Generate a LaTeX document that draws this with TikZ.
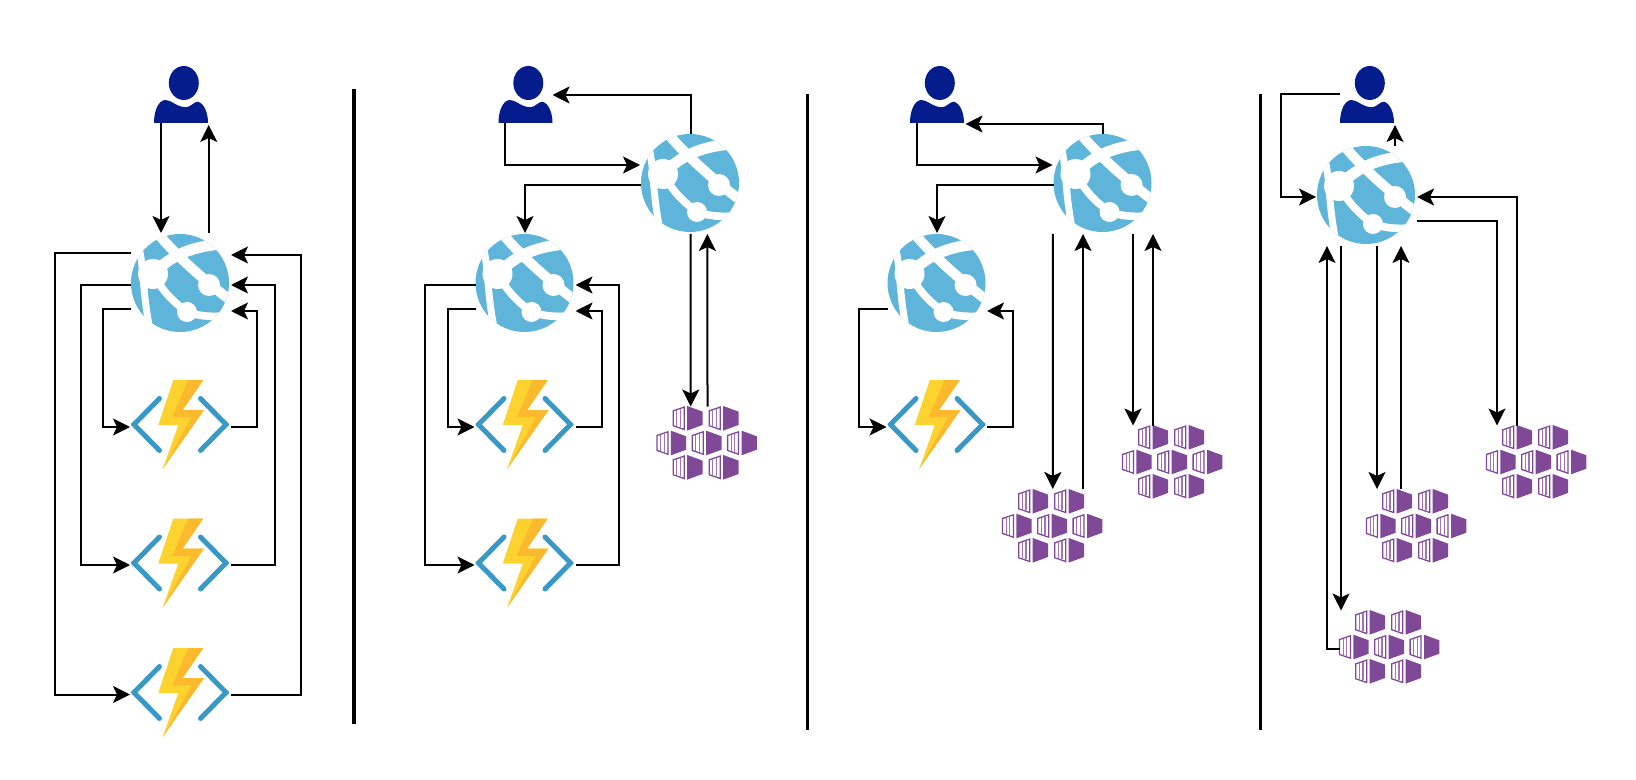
\documentclass[tikz,border=0pt]{standalone}
\usetikzlibrary{arrows.meta,positioning,calc}

\definecolor{appblue}{HTML}{5EB5D9}
\definecolor{userblue}{HTML}{041C8C}
\definecolor{chevblue}{HTML}{3999C6}
\definecolor{boltyellow}{HTML}{FCD22F}
\definecolor{boltorange}{HTML}{FDB92E}
\definecolor{kubepurple}{HTML}{804998}

\newcommand{\appicon}{%
  \begin{scope}[shift={(path picture bounding box.center)}]
    \fill[appblue] (0,0) circle (49);
    \begin{scope}[white, line cap=butt]
      \clip (0,0) circle (49);
      \draw[line width=5pt] (-21,-48) .. controls (-4,-28) and (20,-6) .. (50,17);
      \draw[line width=5.5pt] (-27,-9) .. controls (-12,-24) and (5,-36) .. (42,-39);
      \draw[line width=3.5pt] (-42,-38) .. controls (-36,-20) and (-38,5) .. (-31,42);
      \draw[line width=3.8pt] (-27,-9) .. controls (-14,14) and (0,24) .. (8,29) .. controls (18,33) and (30,34) .. (44,33);
      \fill (-27,-9) circle (15);
      \fill (29,2) circle (11);
      \fill (7,29) circle (10);
    \end{scope}
  \end{scope}}

\newcommand{\funcicon}{%
  \begin{scope}[shift={(path picture bounding box.center)}]
    \draw[chevblue, line width=2.5pt, line cap=round, miter limit=4] (-20.5,-26) -- (-46,0) -- (-20.5,26);
    \draw[chevblue, line width=2.5pt, line cap=round, miter limit=4] (20.5,-26) -- (46,0) -- (20.5,26);
    \fill[boltyellow] (-6.7,-44.5) -- (23.3,-44.5) -- (2.7,-14.5) -- (24,-14.5) -- (-17.3,44.5) -- (-1.7,0.5) -- (-21.7,0.5) -- cycle;
    \fill[boltorange] (8.3,-44.5) -- (23.3,-44.5) -- (2.7,-14.5) -- (24,-14.5) -- (-17.3,44.5) -- (11.7,-7.2) -- (-7.7,-7.2) -- cycle;
  \end{scope}}

\newcommand{\usericon}{%
  \begin{scope}[shift={(path picture bounding box.center)}]
    \fill[userblue] (2.8,-11.5) ellipse (15 and 17);
    \fill[userblue] (-27,28.5) .. controls (-27,15) and (-22,6) .. (-16,5.5)
      .. controls (-10,5) and (-5,12.5) .. (5,12.8)
      .. controls (10,12.5) and (13,7) .. (17,7.2)
      .. controls (23,9) and (27,18) .. (27,28.5) -- cycle;
  \end{scope}}

% one box of the cluster
\newcommand{\kubepiece}[2]{%
  \draw[kubepurple, line width=0.65pt, line join=miter] ({#1-14.2},{#2-7.5}) -- ({#1-3.3},{#2-11.2}) -- ({#1-3.3},{#2+11.2}) -- ({#1-14.2},{#2+7.5}) -- cycle;
  \draw[kubepurple!75, line width=0.55pt] ({#1-10.6},{#2-8}) -- ({#1-10.6},{#2+8}) ({#1-7},{#2-9}) -- ({#1-7},{#2+9});
  \fill[kubepurple] ({#1-0.3},{#2-12.3}) -- ({#1+15},{#2-6.7}) -- ({#1+15},{#2+6.7}) -- ({#1-0.3},{#2+12.3}) -- cycle;}

\newcommand{\kubeicon}{%
  \begin{scope}[shift={(path picture bounding box.center)}]
    \foreach \kx/\ky in {-19/-24.7,17/-24.7,-35.3/0,0/0,35.3/0,-19/24.3,17/24.3}
      {\kubepiece{\kx}{\ky}}
  \end{scope}}

\tikzset{
  appnode/.style={inner sep=0pt, outer sep=0pt, minimum size=49pt, path picture={\appicon}},
  funcnode/.style={inner sep=0pt, outer sep=0pt, minimum width=49pt, minimum height=44.5pt, path picture={\funcicon}},
  usernode/.style={inner sep=0pt, outer sep=0pt, minimum width=27pt, minimum height=28.5pt, path picture={\usericon}},
  kubenode/.style={inner sep=0pt, outer sep=0pt, minimum width=50.5pt, minimum height=37.5pt, path picture={\kubeicon}},
  arr/.style={-{Stealth[length=8.5pt, width=8.5pt, inset=2pt]}, line width=1pt},
  divider/.style={line width=1.7pt}
}

\begin{document}
\begin{tikzpicture}[x=0.5pt, y=-0.5pt]
\useasboundingbox (0,0) rectangle (1636,780);

% first panel
\node[usernode] (user1) at (181,94.5) {};
\node[appnode, below=55.5pt of user1, xshift=-0.5pt] (app1) {};
\node[funcnode, below=24pt of app1] (func11) {};
\node[funcnode, below=24.75pt of func11] (func12) {};
\node[funcnode, below=20.25pt of func12] (func13) {};

\draw[arr] ($(user1.south)+(-20,0)$) -- ($(app1.north)+(-19,-1)$);
\draw[arr] ($(app1.north)+(28.7,-1)$) -- ($(user1.south)+(27.7,2)$);
\draw[arr] ($(app1.west)+(0,-30)$) -- ++(-76,0) |- ($(func13.west)+(-1,2)$);
\draw[arr] ($(app1.west)+(0,2)$) -- ++(-50,0) |- ($(func12.west)+(-1,2)$);
\draw[arr] ($(app1.west)+(0,26)$) -- ++(-28,0) |- ($(func11.west)+(-1,2.5)$);
\draw[arr] ($(func11.east)+(2,2.5)$) -- ++(26,0) |- ($(app1.east)+(2,28)$);
\draw[arr] ($(func12.east)+(2,2)$) -- ++(44,0) |- ($(app1.east)+(2,2)$);
\draw[arr] ($(func13.east)+(2,2)$) -- ++(70,0) |- ($(app1.east)+(2,-28)$);

\draw[divider] (354,89) -- (354,724);

% second panel
\node[usernode] (user2) at (525.5,94.5) {};
\node[appnode, below=55.5pt of user2, xshift=-0.5pt] (app21) {};
\node[funcnode, below=24pt of app21] (func21) {};
\node[funcnode, below=24.75pt of func21] (func22) {};
\node[appnode] (app22) at (690,183) {};
\node[kubenode] (kube2) at (706.5,443) {};

\draw[arr] ($(app22.north)+(0.7,0)$) |- ($(user2.east)+(0,0.5)$);
\draw[arr] ($(user2.south)+(-20.5,0)$) |- ($(app22.west)+(-1,-18)$);
\draw[arr] ($(app22.west)+(0,2)$) -| ($(app21.north)+(0.5,-1)$);
\draw[arr] ($(app22.south)+(0.7,2)$) -- ($(kube2.north)+(-15.8,1)$);
\draw[arr] ($(kube2.north)+(1,1)$) -- ($(app22.south)+(17.4,2)$);
\draw[arr] ($(app21.west)+(0,2)$) -- ++(-50.3,0) |- ($(func22.west)+(-1,2)$);
\draw[arr] ($(app21.west)+(0,26)$) -- ++(-27.4,0) |- ($(func21.west)+(-1,2.5)$);
\draw[arr] ($(func21.east)+(2,2.5)$) -- ++(26,0) |- ($(app21.east)+(2,28)$);
\draw[arr] ($(func22.east)+(2,2)$) -- ++(43.7,0) |- ($(app21.east)+(2,2)$);

\draw[divider] (807.6,94) -- (807.6,730);

% third panel
\node[usernode] (user3) at (937,94.5) {};
\node[appnode, below=55.5pt of user3, xshift=-0.25pt] (app31) {};
\node[funcnode, below=24pt of app31] (func31) {};
\node[appnode] (app32) at (1102.5,183) {};
\node[kubenode] (kube31) at (1052,526) {};
\node[kubenode] (kube32) at (1172,462) {};

\draw[arr] ($(app32.north)+(0.5,0)$) |- ($(user3.south east)+(1.5,1)$);
\draw[arr] ($(user3.south)+(-20,0)$) |- ($(app32.west)+(-1,-18)$);
\draw[arr] ($(app32.west)+(0,2)$) -| ($(app31.north)+(0.5,-1)$);
\draw[arr] ($(app32.south)+(-49.7,2)$) -- ($(kube31.north)+(0.8,0.5)$);
\draw[arr] ($(kube31.north)+(31,0.5)$) -- ($(app32.south)+(-19.5,2)$);
\draw[arr] ($(app32.south)+(30.5,2)$) -- ($(kube32.north)+(-39,1)$);
\draw[arr] ($(kube32.north)+(-19,1)$) -- ($(app32.south)+(50.5,2)$);
\draw[arr] ($(app31.west)+(0,26)$) -- ++(-28.8,0) |- ($(func31.west)+(-1,2.5)$);
\draw[arr] ($(func31.east)+(1.5,2.5)$) -- ++(26,0) |- ($(app31.east)+(1.5,28)$);

\draw[divider] (1260.4,94) -- (1260.4,730);

% fourth panel
\node[usernode] (user4) at (1367,94.5) {};
\node[appnode] (app41) at (1366,195) {};
\node[kubenode] (kube41) at (1536,462) {};
\node[kubenode] (kube42) at (1416,526) {};
\node[kubenode] (kube43) at (1389,647) {};

\draw[arr] (user4.west) -- ++(-59,0) |- ($(app41.west)+(-1,2)$);
\draw[arr] ($(app41.north)+(29,0)$) -- ($(user4.south)+(28,2)$);
\draw[arr] ($(kube41.north)+(-19,1)$) |- ($(app41.east)+(2,2)$);
\draw[arr] ($(app41.east)+(2,26)$) -| ($(kube41.north)+(-39,1)$);
\draw[arr] ($(app41.south)+(11,2)$) -- ($(kube42.north)+(-39,0.5)$);
\draw[arr] ($(kube42.north)+(-15,0.5)$) -- ($(app41.south)+(35,2)$);
\draw[arr] ($(app41.south)+(-25,2)$) -- ($(kube43.north)+(-48,1)$);
\draw[arr] ($(kube43.west)+(1,2)$) -| ($(app41.south)+(-39,2)$);
\end{tikzpicture}
\end{document}
